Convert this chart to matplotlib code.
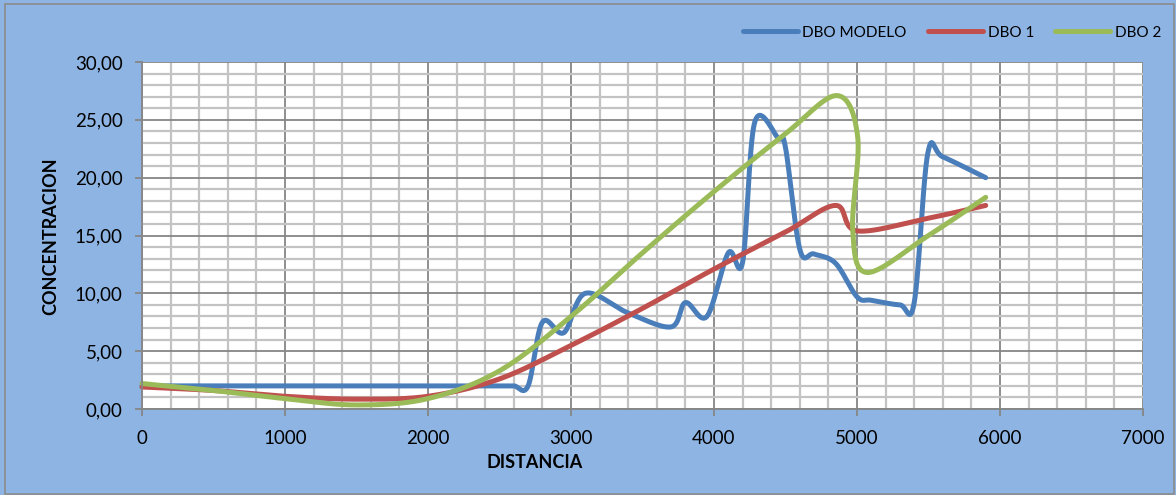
import numpy as np
import matplotlib
matplotlib.use("Agg")
import matplotlib.pyplot as plt
from matplotlib.patches import Rectangle
from matplotlib.ticker import MultipleLocator, FuncFormatter

plt.rcParams['font.family'] = ['Lato', 'DejaVu Sans']

# Distance (m) and concentration readings for each series
dist_modelo = [0, 500, 1000, 1500, 2000, 2500, 2600, 2700, 2800, 2950, 3100, 3400, 3700,
               3800, 3950, 4100, 4200, 4285, 4450, 4500, 4600, 4700, 4850, 5000, 5100,
               5300, 5400, 5495, 5600, 5900]
dbo_modelo = [2.0, 2.0, 2.0, 2.0, 2.0, 2.0, 2.0, 2.0, 7.5, 6.6, 10.0, 8.3, 7.1,
              9.2, 8.0, 13.5, 12.7, 24.8, 23.4, 22.6, 13.8, 13.4, 12.6, 9.7, 9.4,
              9.0, 9.2, 22.1, 21.8, 20.0]

dist_dbo1 = [0, 500, 1000, 1500, 2000, 2500, 3000, 3500, 4000, 4500, 4850, 5000, 5500, 5900]
dbo1 = [1.9, 1.6, 1.1, 0.85, 1.1, 2.6, 5.5, 8.7, 12.1, 15.3, 17.6, 15.4, 16.5, 17.6]

dist_dbo2 = [0, 500, 1000, 1500, 2000, 2500, 3000, 3500, 4000, 4500, 4860, 5005, 4970,
             5070, 5500, 5900]
dbo2 = [2.2, 1.6, 0.9, 0.35, 0.9, 3.3, 8.0, 13.5, 18.8, 23.8, 27.1, 23.5, 15.5,
        11.8, 15.0, 18.3]

series = [
    ("DBO MODELO", dist_modelo, dbo_modelo, "#4A7EBB"),
    ("DBO 1", dist_dbo1, dbo1, "#C0504D"),
    ("DBO 2", dist_dbo2, dbo2, "#9BBB59"),
]


def smooth(xs, ys, n=40):
    """Bezier smoothing through every point (Catmull-Rom style tangents)."""
    p = np.column_stack([xs, ys]).astype(float)
    m = len(p)
    out = [p[0]]
    t = np.linspace(0, 1, n)[1:, None]
    for i in range(m - 1):
        p0 = p[i - 1] if i > 0 else p[i]
        p1, p2 = p[i], p[i + 1]
        p3 = p[i + 2] if i + 2 < m else p[i + 1]
        c1 = p1 + (p2 - p0) / 6.0
        c2 = p2 - (p3 - p1) / 6.0
        seg = ((1 - t) ** 3) * p1 + 3 * ((1 - t) ** 2) * t * c1 + 3 * (1 - t) * t ** 2 * c2 + t ** 3 * p2
        out.extend(seg)
    out = np.array(out)
    return out[:, 0], out[:, 1]


W, H = 1176, 495
fig = plt.figure(figsize=(W / 100, H / 100), dpi=100)
fig.patch.set_facecolor("#8DB4E2")
fig.patches.append(Rectangle((5 / W, 1 / H), (W - 7) / W, (H - 5) / H,
                             transform=fig.transFigure, fill=False,
                             edgecolor="#8C8C8C", linewidth=1.2))

ax = fig.add_axes([142 / W, 1 - 409 / H, 1001 / W, 347 / H])
ax.set_facecolor("white")

ax.set_xlim(0, 7000)
ax.set_ylim(0, 30)
ax.xaxis.set_major_locator(MultipleLocator(1000))
ax.xaxis.set_minor_locator(MultipleLocator(200))
ax.yaxis.set_major_locator(MultipleLocator(5))
ax.yaxis.set_minor_locator(MultipleLocator(1))
ax.yaxis.set_major_formatter(FuncFormatter(lambda v, _: f"{v:.2f}".replace(".", ",")))
ax.xaxis.set_major_formatter(FuncFormatter(lambda v, _: f"{int(v)}"))

ax.grid(which="major", color="#868686", linewidth=1.3)
ax.grid(which="minor", color="#C3C3C3", linewidth=1.6)
ax.set_axisbelow(True)
for s in ax.spines.values():
    s.set_visible(False)
for side in ("left", "bottom"):
    ax.spines[side].set_visible(True)
    ax.spines[side].set_color("#868686")
    ax.spines[side].set_linewidth(1.3)
ax.tick_params(which="major", direction="out", length=5, width=1.3, color="#868686",
               labelsize=13.5, labelcolor="black")
ax.tick_params(axis="y", pad=9)
ax.tick_params(axis="x", pad=10)
ax.tick_params(which="minor", length=0)

for name, xs, ys, col in series:
    sx, sy = smooth(xs, ys)
    ax.plot(sx, sy, color=col, linewidth=3.6, solid_capstyle="round", label=name, clip_on=False)

ax.set_xlabel("DISTANCIA", fontsize=13, fontweight="bold")
ax.xaxis.set_label_coords((535 - 142) / 1001, -(463 - 409) / 347)
ax.xaxis.label.set_va("center")
ax.set_ylabel("CONCENTRACION", fontsize=13, fontweight="bold")
ax.yaxis.set_label_coords(-(142 - 51) / 1001, (409 - 236) / 347)
ax.yaxis.label.set_va("center")

leg = ax.legend(loc="upper right", bbox_to_anchor=(1175 / W, 1 - 12 / H),
                bbox_transform=fig.transFigure, ncol=3, frameon=False,
                fontsize=11, handlelength=3.6, columnspacing=1.4, handletextpad=0.3)

fig.savefig("out.png", dpi=100, facecolor=fig.get_facecolor())
